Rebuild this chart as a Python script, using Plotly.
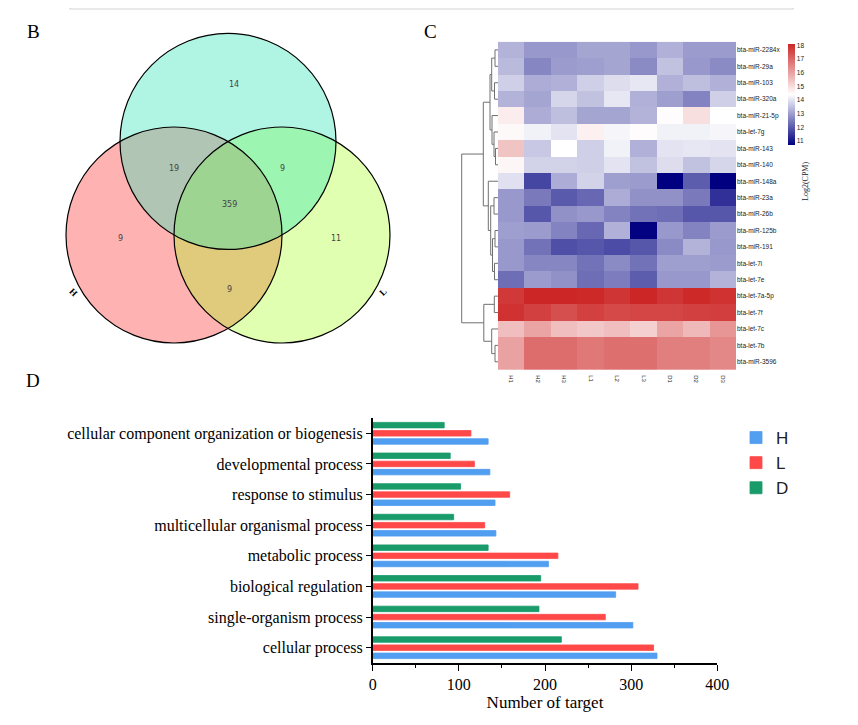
import plotly.graph_objects as go

# page body has an 8px margin: figure occupies page pixels 8..858 x 8..725
OFF = 8
W, H = 858 - OFF, 725 - OFF
def px(x): return (x - OFF) / W
def py(y): return 1 - (y - OFF) / H

# ---------------- Venn data ----------------
venn_sets = ["H", "L", "D"]
venn_region_names = ["D", "HD", "DL", "HDL", "H", "L", "HL"]
venn_region_counts = [14, 19, 9, 359, 9, 11, 9]

# ---------------- Heatmap data ----------------
hm_cols = ["H1", "H2", "H3", "L1", "L2", "L3", "D1", "D2", "D3"]
hm_rows = ["bta-miR-2284x", "bta-miR-29a", "bta-miR-103", "bta-miR-320a", "bta-miR-21-5p",
           "bta-let-7g", "bta-miR-143", "bta-miR-140", "bta-miR-148a", "bta-miR-23a",
           "bta-miR-26b", "bta-miR-125b", "bta-miR-191", "bta-let-7i", "bta-let-7e",
           "bta-let-7a-5p", "bta-let-7f", "bta-let-7c", "bta-let-7b", "bta-miR-3596"]
hm_vals = [
    [13.3, 12.9, 12.9, 13.1, 13.1, 12.9, 13.25, 12.95, 12.95],
    [13.4, 12.65, 12.95, 13.0, 13.1, 12.7, 13.5, 12.9, 12.7],
    [13.7, 13.2, 13.25, 13.7, 13.9, 14.05, 13.25, 13.45, 13.25],
    [13.3, 13.1, 13.8, 13.5, 14.05, 13.25, 13.0, 12.6, 13.7],
    [14.7, 13.2, 13.45, 13.1, 13.1, 13.3, 14.45, 14.95, 14.4],
    [14.5, 14.2, 14.0, 14.65, 14.25, 14.45, 14.2, 14.2, 14.25],
    [15.4, 13.6, 14.4, 13.7, 14.2, 13.25, 14.0, 14.05, 14.0],
    [14.55, 13.75, 13.75, 13.7, 14.0, 13.5, 13.9, 13.5, 13.8],
    [13.95, 11.7, 13.2, 13.75, 13.0, 12.95, 10.7, 12.05, 10.7],
    [12.9, 12.45, 12.0, 12.2, 13.2, 12.8, 12.8, 12.45, 11.4],
    [12.9, 11.95, 12.8, 12.9, 12.6, 12.35, 12.3, 11.95, 11.95],
    [13.0, 12.95, 12.6, 12.2, 13.25, 10.75, 12.9, 12.6, 12.95],
    [12.9, 12.35, 11.85, 11.95, 11.8, 11.95, 12.7, 13.3, 12.9],
    [12.9, 12.65, 12.65, 12.35, 12.7, 12.35, 13.0, 13.0, 12.95],
    [12.3, 12.95, 12.8, 12.3, 12.5, 12.05, 12.9, 12.9, 13.3],
    [17.8, 18.1, 18.1, 18.05, 17.85, 18.1, 17.85, 18.05, 17.9],
    [17.9, 17.65, 17.4, 17.65, 17.5, 17.55, 17.55, 17.65, 17.7],
    [15.5, 15.95, 15.5, 15.35, 15.5, 15.2, 15.95, 15.6, 16.2],
    [16.0, 16.9, 16.9, 16.7, 16.85, 16.85, 16.6, 16.6, 16.45],
    [16.0, 16.9, 16.9, 16.7, 16.85, 16.85, 16.6, 16.6, 16.45],
]
cbar_ticks = [11, 12, 13, 14, 15, 16, 17, 18]
# row dendrogram: (left, right, merge height); leaves are row indices
row_tree = (
    ((((0, 1, 3.0), (2, 3, 3.5), 6.3),
      (4, (5, (6, 7, 2.5), 4.0), 6.0), 8.0),
     (8, ((9, 10, 4.0), ((11, 12, 3.0), (13, 14, 3.5), 5.5), 7.3), 9.7),
     14.7),
    ((15, 16, 3.7), (17, (18, 19, 3.0), 6.3), 14.2),
    36.3)

# ---------------- Bar data ----------------
go_terms = ["cellular process", "single-organism process", "biological regulation",
            "metabolic process", "multicellular organismal process", "response to stimulus",
            "developmental process", "cellular component organization or biogenesis"]
h_counts = [330, 302, 282, 204, 143, 142, 136, 134]
l_counts = [326, 270, 308, 215, 130, 159, 118, 114]
d_counts = [219, 193, 195, 134, 94, 102, 90, 83]

serif = "Liberation Serif"
sans = "Liberation Sans"

fig = go.Figure()

# ---- bars
bar_colors = {"H": "#4d9bf0", "L": "#ff4444", "D": "#129866"}
for name, vals in (("H", h_counts), ("L", l_counts), ("D", d_counts)):
    c = bar_colors[name]
    fig.add_trace(go.Bar(x=vals, y=go_terms, orientation="h", name=name,
                         marker=dict(color=c, line=dict(color=c, width=0.8)),
                         opacity=0.97, xaxis="x", yaxis="y"))

# ---- heatmap
fig.add_trace(go.Heatmap(
    z=hm_vals, x=hm_cols, y=list(range(len(hm_rows))),
    colorscale=[[0, "#000080"], [0.5, "#ffffff"], [1, "#cd2626"]],
    zmin=10.7, zmax=18.1, xaxis="x2", yaxis="y2", showscale=True,
    colorbar=dict(x=px(788), xanchor="left", y=py(44), yanchor="top",
                  len=101 / H, lenmode="fraction", thickness=7, outlinewidth=0,
                  tickvals=cbar_ticks, ticks="", tickfont=dict(family=sans, size=6.5, color="#222"),
                  xpad=0, ypad=0),
    hoverinfo="skip"))

# ---- dendrogram
dx, dy = [], []
def walk(node):
    if isinstance(node, int):
        return float(node), 0.0
    l, r, h = node
    yl, hl = walk(l)
    yr, hr = walk(r)
    dx.extend([hl, h, h, hr, None])
    dy.extend([yl, yl, yr, yr, None])
    return (yl + yr) / 2, h
walk(row_tree)
fig.add_trace(go.Scatter(x=dx, y=dy, mode="lines", line=dict(color="#707070", width=1),
                         xaxis="x3", yaxis="y2", showlegend=False, hoverinfo="skip"))

# ---- venn (unit = circle radius, triangle of centres with side = radius)
R = 1.0
venn_centres = {"H": (-0.5, 0.0), "L": (0.5, 0.0), "D": (0.0, 0.866)}
venn_fills = {"H": "rgba(255,0,0,0.30)", "L": "rgba(155,255,0,0.31)", "D": "rgba(47,229,181,0.38)"}
shapes = []
for s in ["H", "L", "D"]:
    cx, cy = venn_centres[s]
    shapes.append(dict(type="circle", xref="x4", yref="y4", x0=cx - R, x1=cx + R,
                       y0=cy - R, y1=cy + R, fillcolor=venn_fills[s], line=dict(width=0),
                       layer="below"))
for s in ["H", "L", "D"]:
    cx, cy = venn_centres[s]
    shapes.append(dict(type="circle", xref="x4", yref="y4", x0=cx - R, x1=cx + R,
                       y0=cy - R, y1=cy + R, line=dict(color="black", width=1.2)))
venn_label_pos = {"D": (0.053, 1.398), "HD": (-0.5, 0.614), "DL": (0.5, 0.614),
                  "HDL": (0.01, 0.287), "H": (-1.0, -0.034), "L": (1.0, -0.034),
                  "HL": (0.01, -0.5)}
annotations = []
for nm, cnt in zip(venn_region_names, venn_region_counts):
    x, y = venn_label_pos[nm]
    annotations.append(dict(x=x, y=y, xref="x4", yref="y4", text=str(cnt), showarrow=False,
                            font=dict(family="DejaVu Sans", size=8, color="#444")))
set_label_pos = {"D": (0.046, 1.95, 0), "H": (-1.435, -0.528, 45), "L": (1.435, -0.528, -45)}
for s in venn_sets:
    x, y, a = set_label_pos[s]
    annotations.append(dict(x=x, y=y, xref="x4", yref="y4", text="<b>%s</b>" % s,
                            showarrow=False, textangle=a,
                            font=dict(family=serif, size=9, color="black")))

# panel letters
for t, x, y in (("B", 33, 32), ("C", 430, 31), ("D", 33, 380)):
    annotations.append(dict(x=px(x), y=py(y), xref="paper", yref="paper", text=t,
                            xanchor="center", yanchor="middle",
                            showarrow=False, font=dict(family=serif, size=19, color="black")))
annotations.append(dict(x=px(806), y=py(182), xref="paper", yref="paper", text="Log2(CPM)",
                        xanchor="center", yanchor="middle",
                        showarrow=False, textangle=-90,
                        font=dict(family=serif, size=8, color="#222")))

# top frame
shapes.append(dict(type="rect", xref="paper", yref="paper", x0=px(70), x1=px(793),
                   y0=py(9), y1=1.05, line=dict(color="#d4d4d4", width=1.2)))

vx0, vx1, vy0, vy1 = 60, 400, 25, 350
ux, uy, scale = 228, 235, 108

fig.update_layout(
    width=W, height=H, margin=dict(l=0, r=0, t=0, b=0, autoexpand=False),
    paper_bgcolor="white", plot_bgcolor="white",
    barmode="group", bargap=0.2, bargroupgap=0.33,
    shapes=shapes, annotations=annotations,
    legend=dict(x=px(736), y=py(420), xanchor="left", yanchor="top",
                font=dict(family=sans, size=17, color="#222"), bgcolor="rgba(0,0,0,0)",
                itemwidth=30, tracegroupgap=6),
    xaxis=dict(domain=[px(372.7), px(717.3)], anchor="y", range=[0, 400], dtick=100,
               showline=True, linecolor="black", linewidth=1.5, ticks="outside", ticklen=6,
               tickwidth=1.2, tickcolor="black", showgrid=False, zeroline=False,
               minor=dict(ticks="outside", ticklen=3.5, dtick=50, tickcolor="black", tickwidth=1),
               tickfont=dict(family=serif, size=16, color="black"),
               title=dict(text="Number of target", font=dict(family=serif, size=17, color="black"),
                          standoff=4)),
    yaxis=dict(domain=[py(663), py(418)], anchor="x", type="category",
               categoryorder="array", categoryarray=go_terms,
               showline=True, linecolor="black", linewidth=1.5, ticks="outside", ticklen=5,
               tickwidth=1.2, tickcolor="black", showgrid=False,
               tickfont=dict(family=serif, size=16, color="black")),
    xaxis2=dict(domain=[px(498), px(736)], anchor="y2", tickangle=90, ticks="outside",
                ticklen=3, tickcolor="rgba(0,0,0,0)",
                showline=False, showgrid=False, tickfont=dict(family=sans, size=6, color="#222")),
    yaxis2=dict(domain=[py(370), py(41.7)], anchor="x2", range=[19.5, -0.5], side="right",
                tickvals=list(range(len(hm_rows))), ticktext=hm_rows, ticks="",
                showgrid=False, zeroline=False, tickfont=dict(family=sans, size=6.5, color="#222")),
    xaxis3=dict(domain=[px(460), px(498)], anchor="y2", range=[38, 0], visible=False),
    xaxis4=dict(domain=[px(vx0), px(vx1)], anchor="y4", visible=False,
                range=[(vx0 - ux) / scale, (vx1 - ux) / scale]),
    yaxis4=dict(domain=[py(vy1), py(vy0)], anchor="x4", visible=False,
                range=[(uy - vy1) / scale, (uy - vy0) / scale]),
)

fig.write_html("out.html")
